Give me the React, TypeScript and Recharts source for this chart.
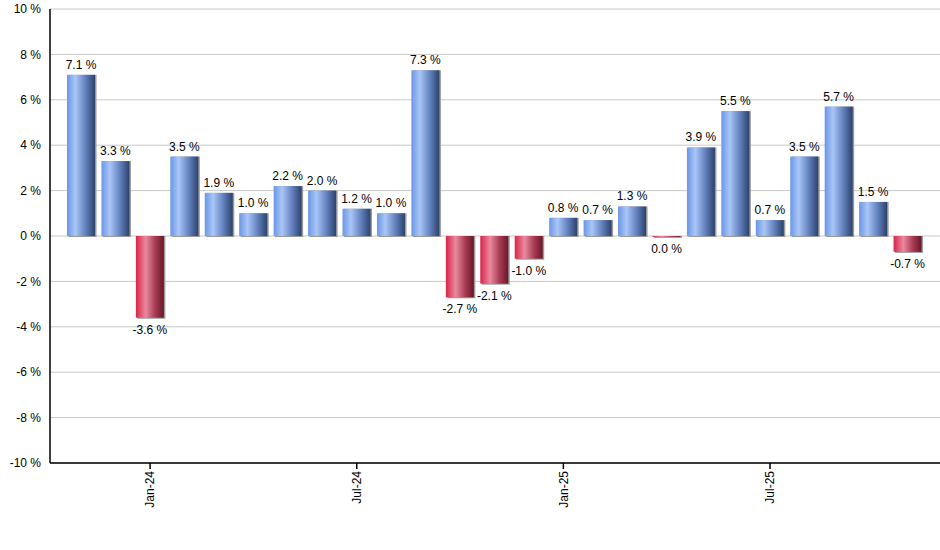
import { BarChart, Bar, XAxis, YAxis, CartesianGrid, Cell, LabelList } from 'recharts';

const months = [
  'Nov-23', 'Dec-23', 'Jan-24', 'Feb-24', 'Mar-24', 'Apr-24', 'May-24', 'Jun-24', 'Jul-24',
  'Aug-24', 'Sep-24', 'Oct-24', 'Nov-24', 'Dec-24', 'Jan-25', 'Feb-25', 'Mar-25', 'Apr-25',
  'May-25', 'Jun-25', 'Jul-25', 'Aug-25', 'Sep-25', 'Oct-25', 'Nov-25',
];
const returns = [
  7.1, 3.3, -3.6, 3.5, 1.9, 1.0, 2.2, 2.0, 1.2, 1.0, 7.3, -2.7, -2.1, -1.0, 0.8, 0.7, 1.3,
  -0.04, 3.9, 5.5, 0.7, 3.5, 5.7, 1.5, -0.7,
];
const labels = [
  '7.1 %', '3.3 %', '-3.6 %', '3.5 %', '1.9 %', '1.0 %', '2.2 %', '2.0 %', '1.2 %', '1.0 %',
  '7.3 %', '-2.7 %', '-2.1 %', '-1.0 %', '0.8 %', '0.7 %', '1.3 %', '0.0 %', '3.9 %', '5.5 %',
  '0.7 %', '3.5 %', '5.7 %', '1.5 %', '-0.7 %',
];
const yTicks = [-10, -8, -6, -4, -2, 0, 2, 4, 6, 8, 10];
const xTicks = ['Jan-24', 'Jul-24', 'Jan-25', 'Jul-25'];

const data = months.map((m, i) => ({ month: m, value: returns[i], label: labels[i] }));

const font = '"Liberation Sans", Arial, sans-serif';

function ShadowBar(props: any) {
  const { x, y, width, height, fill } = props;
  const top = Math.min(y, y + height);
  const h = Math.abs(height);
  return (
    <g>
      <rect x={x + 1.5} y={top} width={width} height={h + 1} fill="#9a9a9a" />
      <rect x={x} y={top} width={width} height={h} fill={fill} />
    </g>
  );
}

function BarLabel(props: any) {
  const { x, y, width, height, value, index } = props;
  const top = Math.min(y, y + height);
  const bottom = Math.max(y, y + height);
  const neg = returns[index] < 0;
  return (
    <text
      x={x + width / 2}
      y={neg ? bottom + 16 : top - 6}
      textAnchor="middle"
      fontSize={12}
      fontFamily={font}
      fill="#000"
    >
      {value}
    </text>
  );
}

function MonthTick(props: any) {
  const { x, y, payload } = props;
  return (
    <text
      x={x}
      y={y}
      transform={`rotate(-90, ${x}, ${y})`}
      textAnchor="end"
      dy="0.35em"
      fontSize={12}
      fontFamily={font}
      fill="#000"
    >
      {payload.value}
    </text>
  );
}

export default function App() {
  return (
    <div style={{ position: 'absolute', left: 0, top: 0, background: '#fff' }}>
      <BarChart width={940} height={550} data={data} margin={{ top: 9, right: 0, left: 0, bottom: 27 }}>
        <defs>
          <linearGradient id="blueGrad" x1="0" y1="0" x2="1" y2="0">
            <stop offset="0%" stopColor="#6b96e6" />
            <stop offset="30%" stopColor="#a9c6f7" />
            <stop offset="65%" stopColor="#6483c0" />
            <stop offset="100%" stopColor="#2b426c" />
          </linearGradient>
          <linearGradient id="redGrad" x1="0" y1="0" x2="1" y2="0">
            <stop offset="0%" stopColor="#da2349" />
            <stop offset="35%" stopColor="#e98a9e" />
            <stop offset="70%" stopColor="#a53a52" />
            <stop offset="100%" stopColor="#6a1628" />
          </linearGradient>
        </defs>
        <CartesianGrid vertical={false} stroke="#c8c8c8" />
        <XAxis
          dataKey="month"
          ticks={xTicks}
          interval={0}
          padding={{ left: 14, right: 15 }}
          height={60}
          stroke="#000"
          axisLine={{ stroke: '#000', strokeWidth: 1.5 }}
          tickLine={{ stroke: '#000', strokeWidth: 1.5 }}
          tickSize={6}
          tick={<MonthTick />}
        />
        <YAxis
          domain={[-10, 10]}
          ticks={yTicks}
          interval={0}
          width={50}
          axisLine={{ stroke: '#000', strokeWidth: 1.5 }}
          tickLine={false}
          tickMargin={3}
          tickFormatter={(v: number) => `${v} %`}
          tick={{ fontSize: 12, fontFamily: font, fill: '#000' }}
        />
        <Bar dataKey="value" barSize={28} shape={<ShadowBar />} isAnimationActive={false}>
          {data.map((d, i) => (
            <Cell key={i} fill={d.value < 0 ? 'url(#redGrad)' : 'url(#blueGrad)'} />
          ))}
          <LabelList dataKey="label" content={<BarLabel />} />
        </Bar>
      </BarChart>
    </div>
  );
}
